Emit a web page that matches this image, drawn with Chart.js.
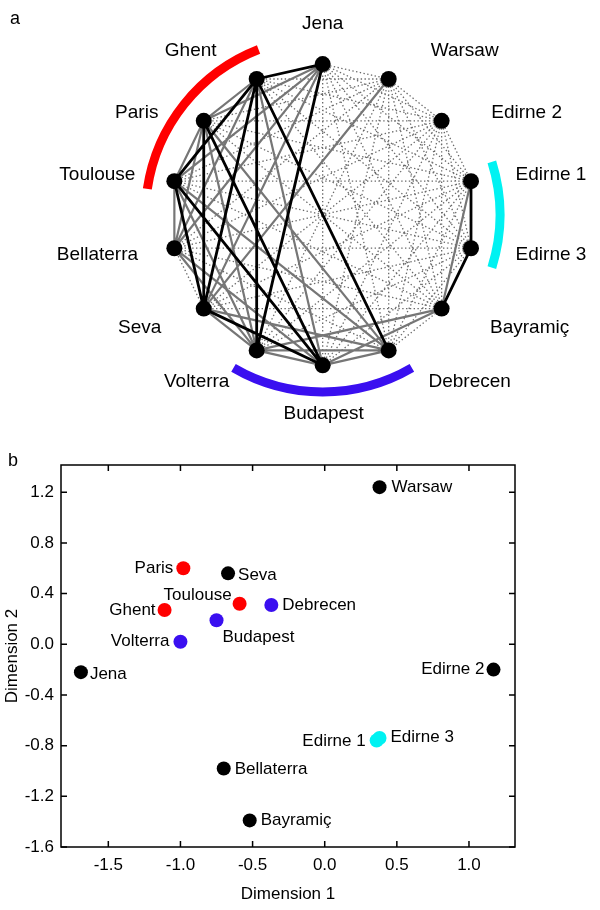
<!DOCTYPE html>
<html>
<head>
<meta charset="utf-8">
<script src="https://cdn.jsdelivr.net/npm/chart.js@4/dist/chart.umd.min.js"></script>
<style>
  html, body { margin: 0; padding: 0; background: #fff; }
  #wrap { position: relative; width: 600px; height: 910px; }
  #net-box { position: absolute; left: 0; top: 0; width: 600px; height: 440px; }
  #mds-box { position: absolute; left: 0; top: 440px; width: 600px; height: 470px; }
</style>
</head>
<body>
<div id="wrap">
  <div id="net-box"><canvas id="net-graph"></canvas></div>
  <div id="mds-box"><canvas id="mds-graph"></canvas></div>
</div>
<script>
// ---- panel a: network, nodes clockwise from the top ----
const nodeNames = ['Jena', 'Warsaw', 'Edirne 2', 'Edirne 1', 'Edirne 3', 'Bayramiç', 'Debrecen',
  'Budapest', 'Volterra', 'Seva', 'Bellaterra', 'Toulouse', 'Paris', 'Ghent'];

const strongLinks = [
  ['Jena', 'Ghent'], ['Jena', 'Volterra'], ['Ghent', 'Toulouse'], ['Ghent', 'Seva'],
  ['Ghent', 'Volterra'], ['Ghent', 'Debrecen'], ['Paris', 'Seva'], ['Paris', 'Budapest'],
  ['Toulouse', 'Seva'], ['Toulouse', 'Budapest'], ['Seva', 'Budapest'],
  ['Edirne 1', 'Edirne 3'], ['Edirne 3', 'Bayramiç']
];
const mediumLinks = [
  ['Jena', 'Paris'], ['Jena', 'Toulouse'], ['Jena', 'Bellaterra'], ['Jena', 'Seva'],
  ['Ghent', 'Paris'], ['Ghent', 'Bellaterra'], ['Ghent', 'Budapest'],
  ['Paris', 'Toulouse'], ['Paris', 'Bellaterra'], ['Paris', 'Volterra'], ['Paris', 'Debrecen'],
  ['Toulouse', 'Bellaterra'], ['Toulouse', 'Volterra'], ['Toulouse', 'Debrecen'],
  ['Bellaterra', 'Volterra'], ['Bellaterra', 'Budapest'],
  ['Seva', 'Volterra'], ['Seva', 'Debrecen'], ['Seva', 'Warsaw'],
  ['Volterra', 'Budapest'], ['Volterra', 'Debrecen'], ['Volterra', 'Bayramiç'],
  ['Budapest', 'Debrecen'], ['Budapest', 'Bayramiç'], ['Edirne 1', 'Bayramiç']
];
// every other pair is a weak (dotted) link

const groupArcs = [
  { from: 'Ghent', to: 'Toulouse', color: '#ff0000' },
  { from: 'Edirne 1', to: 'Edirne 3', color: '#00f2f2' },
  { from: 'Volterra', to: 'Debrecen', color: '#3a0ff0' }
];

// ---- panel b: MDS ----
const mdsNames = ['Warsaw', 'Paris', 'Seva', 'Toulouse', 'Debrecen', 'Ghent', 'Budapest', 'Volterra',
  'Jena', 'Edirne 2', 'Edirne 1', 'Edirne 3', 'Bellaterra', 'Bayramiç'];
const mdsDim1 = [0.38, -0.98, -0.67, -0.59, -0.37, -1.11, -0.75, -1.00, -1.69, 1.17, 0.36, 0.38, -0.70, -0.52];
const mdsDim2 = [1.24, 0.60, 0.56, 0.32, 0.31, 0.27, 0.19, 0.02, -0.22, -0.20, -0.76, -0.74, -0.98, -1.39];
const mdsGroup = ['other', 'west', 'other', 'west', 'east', 'west', 'east', 'east',
  'other', 'other', 'edirne', 'edirne', 'other', 'other'];
const dim1Ticks = [-1.5, -1.0, -0.5, 0.0, 0.5, 1.0];
const dim2Ticks = [-1.6, -1.2, -0.8, -0.4, 0.0, 0.4, 0.8, 1.2];

const groupColors = { west: '#ff0000', east: '#3a0ff0', edirne: '#00f2f2', other: '#000000' };

// label placement, px offsets from the mark
const netLabelOffsets = [[0, -40], [76, -28], [85, -8], [80, -6], [80, 7], [88, 19], [81, 31],
  [1, 48], [-60, 31], [-64, 19], [-77, 7], [-77, -6], [-67, -8], [-66, -28]];
const mdsLabelOffsets = [[12, 0, 'left'], [-10, 0, 'right'], [10, 2, 'left'], [-8, -8, 'right'],
  [11, 0, 'left'], [-9, 0, 'right'], [6, 17, 'left'], [-11, 0, 'right'], [9, 2, 'left'],
  [-9, 0, 'right'], [-11, 1, 'right'], [11, -1, 'left'], [11, 1, 'left'], [11, 0, 'left']];

const FONT = 'Arial, "Liberation Sans", sans-serif';

function nodePos(name) {
  const i = nodeNames.indexOf(name);
  const a = (90 - i * 360 / nodeNames.length) * Math.PI / 180;
  return { x: Math.cos(a), y: Math.sin(a) };
}

function linkPoints(links) {
  const pts = [];
  links.forEach(l => {
    pts.push(nodePos(l[0]), nodePos(l[1]), { x: null, y: null });
  });
  return pts;
}

function drawNetwork(canvasID) {
  const ctx = document.getElementById(canvasID).getContext('2d');

  const used = new Set(strongLinks.concat(mediumLinks).map(l => [l[0], l[1]].sort().join('|')));
  const weakLinks = [];
  for (let i = 0; i < nodeNames.length; i++) {
    for (let j = i + 1; j < nodeNames.length; j++) {
      const key = [nodeNames[i], nodeNames[j]].sort().join('|');
      if (!used.has(key)) weakLinks.push([nodeNames[i], nodeNames[j]]);
    }
  }

  const netDecor = {
    id: 'netDecor',
    beforeDatasetsDraw(chart) {
      const c = chart.ctx;
      const xs = chart.scales.x, ys = chart.scales.y;
      const cx = xs.getPixelForValue(0), cy = ys.getPixelForValue(0);
      const r = (xs.getPixelForValue(1) - cx) * 1.165;
      const step = 360 / nodeNames.length;
      c.save();
      c.lineWidth = 9;
      c.lineCap = 'butt';
      groupArcs.forEach(g => {
        const a1 = 90 - nodeNames.indexOf(g.from) * step;
        const a2 = 90 - nodeNames.indexOf(g.to) * step;
        const hi = Math.max(a1, a2) + 4.5, lo = Math.min(a1, a2) - 4.5;
        c.strokeStyle = g.color;
        c.beginPath();
        c.arc(cx, cy, r, -hi * Math.PI / 180, -lo * Math.PI / 180);
        c.stroke();
      });
      c.restore();
    },
    afterDatasetsDraw(chart) {
      const c = chart.ctx;
      const xs = chart.scales.x, ys = chart.scales.y;
      c.save();
      c.fillStyle = '#000';
      c.font = '19px ' + FONT;
      c.textAlign = 'center';
      c.textBaseline = 'middle';
      nodeNames.forEach((n, i) => {
        const p = nodePos(n);
        c.fillText(n, xs.getPixelForValue(p.x) + netLabelOffsets[i][0],
          ys.getPixelForValue(p.y) + netLabelOffsets[i][1]);
      });
      c.font = '18px ' + FONT;
      c.fillText('a', 15, 19);
      c.restore();
    }
  };

  new Chart(ctx, {
    type: 'scatter',
    data: {
      datasets: [
        {
          data: nodeNames.map(nodePos),
          pointRadius: 8, pointHoverRadius: 8,
          pointBackgroundColor: '#000', pointBorderWidth: 0,
          showLine: false, order: 0
        },
        {
          data: linkPoints(strongLinks), showLine: true, spanGaps: false,
          borderColor: '#000', borderWidth: 2.8, pointRadius: 0, order: 1
        },
        {
          data: linkPoints(mediumLinks), showLine: true, spanGaps: false,
          borderColor: '#767676', borderWidth: 2.2, pointRadius: 0, order: 2
        },
        {
          data: linkPoints(weakLinks), showLine: true, spanGaps: false,
          borderColor: '#6a6a6a', borderWidth: 1.3, borderDash: [1.4, 2.4],
          pointRadius: 0, order: 3
        }
      ]
    },
    options: {
      responsive: false,
      animation: false,
      events: [],
      layout: { padding: 0 },
      plugins: { legend: { display: false }, tooltip: { enabled: false } },
      scales: {
        x: { display: false, min: -2.0685, max: 1.7703 },
        y: { display: false, min: -1.4427, max: 1.3724 }
      }
    },
    plugins: [netDecor]
  });
}

function drawMds(canvasID) {
  const ctx = document.getElementById(canvasID).getContext('2d');

  const frame = {
    id: 'frame',
    afterDraw(chart) {
      const c = chart.ctx;
      const a = chart.chartArea;
      const xs = chart.scales.x, ys = chart.scales.y;
      c.save();
      c.strokeStyle = '#000';
      c.lineWidth = 1.5;
      c.strokeRect(a.left, a.top, a.right - a.left, a.bottom - a.top);
      c.beginPath();
      dim1Ticks.forEach(v => {
        const px = xs.getPixelForValue(v);
        c.moveTo(px, a.bottom); c.lineTo(px, a.bottom - 6);
        c.moveTo(px, a.top); c.lineTo(px, a.top + 6);
      });
      dim2Ticks.forEach(v => {
        const py = ys.getPixelForValue(v);
        c.moveTo(a.left, py); c.lineTo(a.left + 6, py);
        c.moveTo(a.right, py); c.lineTo(a.right - 6, py);
      });
      c.stroke();
      // point labels
      c.fillStyle = '#000';
      c.font = '17px ' + FONT;
      c.textBaseline = 'middle';
      mdsNames.forEach((n, i) => {
        const o = mdsLabelOffsets[i];
        c.textAlign = o[2];
        c.fillText(n, xs.getPixelForValue(mdsDim1[i]) + o[0], ys.getPixelForValue(mdsDim2[i]) + o[1]);
      });
      c.textAlign = 'left';
      c.font = '18px ' + FONT;
      c.fillText('b', 8, 21);
      c.restore();
    }
  };

  new Chart(ctx, {
    type: 'scatter',
    data: {
      datasets: [{
        data: mdsNames.map((n, i) => ({ x: mdsDim1[i], y: mdsDim2[i] })),
        pointRadius: 7, pointHoverRadius: 7, pointBorderWidth: 0,
        pointBackgroundColor: mdsGroup.map(g => groupColors[g])
      }]
    },
    options: {
      responsive: false,
      animation: false,
      events: [],
      layout: { padding: { top: 25, right: 85, left: 0, bottom: 0 } },
      plugins: { legend: { display: false }, tooltip: { enabled: false } },
      scales: {
        x: {
          min: -1.828, max: 1.319,
          afterBuildTicks: s => { s.ticks = dim1Ticks.map(v => ({ value: v })); },
          afterFit: s => { s.height = 63; },
          grid: { display: false, drawTicks: false },
          border: { display: false },
          ticks: { color: '#000', padding: 8, font: { family: FONT, size: 17 },
            callback: v => v.toFixed(1), maxRotation: 0 },
          title: { display: true, text: 'Dimension 1', color: '#000',
            font: { family: FONT, size: 17 }, padding: { bottom: 5 } }
        },
        y: {
          min: -1.6, max: 1.415,
          afterBuildTicks: s => { s.ticks = dim2Ticks.map(v => ({ value: v })); },
          afterFit: s => { s.width = 61; },
          grid: { display: false, drawTicks: false },
          border: { display: false },
          ticks: { color: '#000', padding: 7, font: { family: FONT, size: 17 },
            callback: v => v.toFixed(1) },
          title: { display: true, text: 'Dimension 2', color: '#000',
            font: { family: FONT, size: 17 }, padding: { top: 2 } }
        }
      }
    },
    plugins: [frame]
  });
}

document.getElementById('net-graph').width = 600;
document.getElementById('net-graph').height = 440;
document.getElementById('mds-graph').width = 600;
document.getElementById('mds-graph').height = 470;
drawNetwork('net-graph');
drawMds('mds-graph');
</script>
</body>
</html>
